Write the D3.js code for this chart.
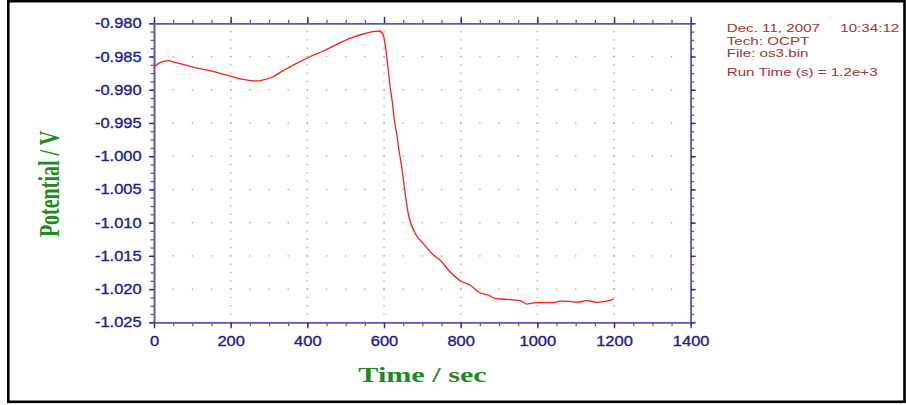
<!DOCTYPE html>
<html>
<head>
<meta charset="utf-8">
<script src="https://cdn.jsdelivr.net/npm/d3@7"></script>
<style>
html,body{margin:0;padding:0;background:#fff;}
svg{display:block;}
</style>
</head>
<body>
<svg id="chart" width="906" height="405"></svg>
<script>
// ---- data ----
const timeSec = [0, 16, 37, 55, 76, 103, 129, 151, 172, 198, 224, 250, 268, 285, 303, 337, 372, 407, 442, 477, 511, 546, 572, 588, 598, 605, 611, 617, 621, 627, 633, 639, 646, 655, 663, 681, 702, 729, 746, 772, 803, 824, 850, 872, 889, 920, 955, 972, 994, 1042, 1059, 1085, 1103, 1129, 1155, 1172, 1199];
const potentialV = [-0.98653, -0.98593, -0.98563, -0.98587, -0.98617, -0.98662, -0.98692, -0.98718, -0.98753, -0.98793, -0.98838, -0.98858, -0.98868, -0.98853, -0.98823, -0.98713, -0.98602, -0.98503, -0.98417, -0.98316, -0.98226, -0.98161, -0.98126, -0.98116, -0.98176, -0.98402, -0.98703, -0.99004, -0.99154, -0.99455, -0.99656, -0.99907, -1.00158, -1.00554, -1.00856, -1.01157, -1.01311, -1.01487, -1.01563, -1.01739, -1.01889, -1.01939, -1.02055, -1.02089, -1.02139, -1.02154, -1.02175, -1.02225, -1.02205, -1.02205, -1.02180, -1.02184, -1.02199, -1.02175, -1.02199, -1.02190, -1.02150];
const xTicks = [0, 200, 400, 600, 800, 1000, 1200, 1400];
const yTicks = [-0.980, -0.985, -0.990, -0.995, -1.000, -1.005, -1.010, -1.015, -1.020, -1.025];
const yTickLabels = ["-0.980", "-0.985", "-0.990", "-0.995", "-1.000", "-1.005", "-1.010", "-1.015", "-1.020", "-1.025"];
const xLabel = "Time / sec";
const yLabel = "Potential / V";
const infoLines = ["Dec. 11, 2007", "Tech: OCPT", "File: os3.bin", "Run Time (s) = 1.2e+3"];
const infoTime = "10:34:12";

// ---- layout ----
const svg = d3.select("#chart");
const L = 154, R = 690.7, T = 23.3, B = 322.3;
const x = d3.scaleLinear().domain([0, 1400]).range([L, R]);
const y = d3.scaleLinear().domain([-1.025, -0.980]).range([B, T]);

const axisCol = "#5a5ab4";
const labelCol = "#1c1c8c";

// outer frame
svg.append("rect").attr("x", 8.3).attr("y", 1.2).attr("width", 896.2).attr("height", 400.6)
  .attr("fill", "none").attr("stroke", "#000").attr("stroke-width", 2.6);

// minor tick values
const xMinor = d3.range(0, 1400.001, 50);
const yMinor = d3.range(0, 36).map(i => -1.025 + i * 0.00125).concat([-0.980]);

// grid dots
const gridCol = "#9ab866";
const g = svg.append("g");
xTicks.filter(v => v > 0 && v < 1400).forEach(xv => {
  yMinor.forEach(yv => {
    if (yv > -1.0249 && yv < -0.9801)
      g.append("rect").attr("x", x(xv) - 0.6).attr("y", y(yv) - 0.6).attr("width", 1.3).attr("height", 1.3).attr("fill", gridCol);
  });
});
yTicks.filter(v => v > -1.0249 && v < -0.9801).forEach(yv => {
  xMinor.forEach(xv => {
    if (xv > 0 && xv < 1400)
      g.append("rect").attr("x", x(xv) - 0.6).attr("y", y(yv) - 0.6).attr("width", 1.3).attr("height", 1.3).attr("fill", gridCol);
  });
});

function styleAxis(sel, w) {
  sel.select(".domain").attr("stroke", axisCol).attr("stroke-width", 1.6);
  sel.selectAll(".tick line").attr("stroke", axisCol).attr("stroke-width", w);
}

// minor ticks
const mb = svg.append("g").attr("transform", `translate(0,${B})`)
  .call(d3.axisBottom(x).tickValues(xMinor).tickSize(3.8).tickSizeOuter(0).tickFormat(""));
styleAxis(mb, 1.3);
const mt = svg.append("g").attr("transform", `translate(0,${T})`)
  .call(d3.axisTop(x).tickValues(xMinor).tickSize(3.5).tickSizeOuter(0).tickFormat(""));
styleAxis(mt, 1.3);
const ml = svg.append("g").attr("transform", `translate(${L},0)`)
  .call(d3.axisLeft(y).tickValues(yMinor).tickSize(3.5).tickSizeOuter(0).tickFormat(""));
styleAxis(ml, 1.3);
const mr = svg.append("g").attr("transform", `translate(${R},0)`)
  .call(d3.axisRight(y).tickValues(yMinor).tickSize(3.5).tickSizeOuter(0).tickFormat(""));
styleAxis(mr, 1.3);

// major ticks
const majCol = "#2c2c96";
const xb = svg.append("g").attr("transform", `translate(0,${B})`)
  .call(d3.axisBottom(x).tickValues(xTicks).tickSize(6).tickSizeOuter(0).tickPadding(6.7).tickFormat(d3.format("d")));
styleAxis(xb, 1.4);
xb.selectAll(".tick line").attr("stroke", majCol);
xb.selectAll(".tick text").attr("fill", labelCol).attr("stroke", labelCol).attr("stroke-width", 0.35)
  .attr("font-family", "'Liberation Sans', Arial, sans-serif")
  .attr("font-size", 15).attr("transform", "scale(1.1,1)");

const xt = svg.append("g").attr("transform", `translate(0,${T})`)
  .call(d3.axisTop(x).tickValues(xTicks).tickSize(6.5).tickSizeOuter(0).tickFormat(""));
styleAxis(xt, 1.4);
xt.selectAll(".tick line").attr("stroke", majCol);

const yl = svg.append("g").attr("transform", `translate(${L},0)`)
  .call(d3.axisLeft(y).tickValues(yTicks).tickSize(5).tickSizeOuter(0).tickFormat((d, i) => yTickLabels[i]));
styleAxis(yl, 1.4);
yl.selectAll(".tick line").attr("stroke", majCol);
yl.selectAll(".tick text").attr("fill", labelCol).attr("stroke", labelCol).attr("stroke-width", 0.35)
  .attr("font-family", "'Liberation Sans', Arial, sans-serif")
  .attr("font-size", 15).attr("x", -12.3 / 1.1).attr("dy", "0.3em").attr("transform", "scale(1.1,1)");

const yr = svg.append("g").attr("transform", `translate(${R},0)`)
  .call(d3.axisRight(y).tickValues(yTicks).tickSize(5).tickSizeOuter(0).tickFormat(""));
styleAxis(yr, 1.4);
yr.selectAll(".tick line").attr("stroke", majCol);

// data line
const pts = timeSec.map((t, i) => [t, potentialV[i]]);
svg.append("path").datum(pts)
  .attr("fill", "none").attr("stroke", "#ff1c1c").attr("stroke-width", 1.3)
  .attr("d", d3.line().x(d => x(d[0])).y(d => y(d[1])).curve(d3.curveMonotoneX));

// axis titles
const green = "#1f8a1f";
svg.append("text").text(xLabel)
  .attr("transform", "translate(422.5,382) scale(1.37,1)")
  .attr("text-anchor", "middle").attr("font-family", "'Liberation Serif', 'Times New Roman', serif")
  .attr("font-weight", "bold").attr("font-size", 22).attr("fill", green);
svg.append("text").text(yLabel)
  .attr("transform", "translate(59,184) scale(1.5,1) rotate(-90)")
  .attr("text-anchor", "middle").attr("font-family", "'Liberation Serif', 'Times New Roman', serif")
  .attr("font-weight", "bold").attr("font-size", 20).attr("fill", green);

// info block
const infoCol = "#a33333";
const infoY = [32, 45.3, 57, 75.6];
infoLines.forEach((s, i) => {
  svg.append("text").text(s)
    .attr("transform", `translate(726.7,${infoY[i]}) scale(1.38,1)`)
    .attr("font-family", "'Liberation Sans', Arial, sans-serif").attr("font-size", 11).attr("fill", infoCol);
});
svg.append("text").text(infoTime)
  .attr("transform", `translate(899.3,32) scale(1.38,1)`).attr("text-anchor", "end")
  .attr("font-family", "'Liberation Sans', Arial, sans-serif").attr("font-size", 11).attr("fill", infoCol);
</script>
</body>
</html>
